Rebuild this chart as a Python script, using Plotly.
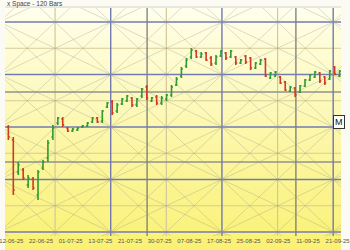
import plotly.graph_objects as go

# ---------------- data ----------------
bar_index = list(range(68))
open_ = [1105,1092,1060,1062,1047,1053,1037,1064,1074,1095,1109,1113,1104,1101,1102,1105,1106,1110,1114,1111,
         1125,1130,1121,1128,1131,1134,1127,1136,1145,1131,1135,1129,1133,1137,1147,1156,1166,1175,1181,1175,
         1179,1174,1169,1176,1179,1175,1175,1169,1176,1174,1164,1168,1173,1154,1156,1155,1150,1141,1144,1140,
         1146,1152,1155,1159,1155,1153,1165,1156]
high_ = [1107,1095,1070,1064,1057,1055,1062,1072,1092,1107,1115,1115,1105,1104,1105,1107,1110,1115,1115,1122,
         1130,1132,1129,1134,1137,1135,1134,1144,1147,1135,1137,1136,1138,1147,1155,1165,1174,1184,1182,1180,
         1180,1176,1177,1182,1180,1182,1176,1173,1177,1175,1170,1173,1174,1160,1161,1156,1151,1146,1145,1147,
         1153,1158,1161,1160,1156,1162,1166,1162]
low_ = [1092,1037,1057,1052,1044,1042,1032,1062,1070,1092,1107,1105,1100,1100,1101,1104,1105,1109,1109,1109,
        1124,1117,1119,1127,1130,1125,1125,1134,1132,1130,1127,1127,1131,1135,1146,1154,1164,1173,1174,1174,
        1171,1166,1167,1175,1172,1174,1167,1168,1168,1162,1163,1167,1155,1153,1155,1148,1141,1140,1135,1139,
        1145,1151,1154,1149,1147,1152,1157,1155]
close_ = [1095,1042,1067,1054,1054,1044,1060,1070,1089,1104,1114,1107,1101,1103,1104,1106,1109,1114,1110,1121,
          1129,1119,1127,1133,1136,1127,1133,1143,1134,1134,1129,1134,1137,1145,1153,1163,1172,1182,1175,1178,
          1172,1168,1175,1181,1174,1181,1169,1172,1170,1164,1169,1172,1156,1159,1160,1149,1142,1145,1137,1146,
          1152,1157,1160,1151,1149,1161,1158,1161]

tick_pos = [0.6, 6.6, 12.6, 18.6, 24.6, 30.6, 36.6, 42.6, 48.6, 54.6, 60.6, 66.6]
tick_labels = ["12-06-25", "22-06-25", "01-07-25", "13-07-25", "21-07-25", "30-07-25",
               "07-08-25", "17-08-25", "25-08-25", "02-09-25", "11-09-25", "21-09-25"]

# Gann grid definition (bar units / price units)
grid_x0 = 20.7        # a major vertical level
cell_w = 22.5         # bars per cell
grid_p0 = 1000.0      # base price level
cell_h = 52.5         # price per cell
major_x = [grid_x0 - cell_w, grid_x0, grid_x0 + cell_w, grid_x0 + 2 * cell_w]
minor_x = [grid_x0 - cell_w / 2, grid_x0 + cell_w / 2, grid_x0 + 1.5 * cell_w]
major_p = [grid_p0 + k * cell_h for k in range(5)]
minor_p = [grid_p0 + (k + 0.5) * cell_h for k in range(4)]
extra_p = [1070, 1140]
extra_x = [28.06, 58.16]

X_RANGE = [-0.68, 67.28]
Y_RANGE = [996, 1224]
W, H = 350, 250
MT, MB = 8, 14
plot_h = H - MT - MB

fig = go.Figure()
fig.add_trace(go.Ohlc(
    x=bar_index, open=open_, high=high_, low=low_, close=close_,
    increasing=dict(line=dict(color="#2f9a2f", width=1.6)),
    decreasing=dict(line=dict(color="#cf3b22", width=1.6)),
    tickwidth=0.3, showlegend=False, hoverinfo="skip"))

shapes = []
# background gradient (paper coords, reaching into bottom margin)
n_bands = 60
top_c = (255, 255, 238)
bot_c = (250, 241, 115)
y_bot = -MB / plot_h
for b in range(n_bands):
    t0 = b / n_bands
    t1 = (b + 1) / n_bands
    tm = ((t0 + t1) / 2) ** 0.9
    col = tuple(round(top_c[k] + (bot_c[k] - top_c[k]) * tm) for k in range(3))
    y_hi = 1 - t0 * (1 - y_bot)
    y_lo = 1 - t1 * (1 - y_bot)
    shapes.append(dict(type="rect", xref="paper", yref="paper", x0=0, x1=1, y0=y_lo, y1=y_hi + 0.002,
                       fillcolor="rgb(%d,%d,%d)" % col, line=dict(width=0), layer="below"))

# diagonal Gann lines through the lattice
diag_col = "rgba(150,150,140,0.32)"
XL, XR = -40, 110
def add_line_cells(slope, k):
    xs = [(XL - grid_x0) / cell_w, (XR - grid_x0) / cell_w]
    pts = [(grid_x0 + xc * cell_w, grid_p0 + (slope * xc + k) * cell_h) for xc in xs]
    shapes.append(dict(type="line", xref="x", yref="y", x0=pts[0][0], y0=pts[0][1],
                       x1=pts[1][0], y1=pts[1][1], line=dict(color=diag_col, width=1), layer="below"))

for s in (1, -1):
    for k in range(-6, 10):
        add_line_cells(s, k)
for s in (2, -2):
    for k in range(-8, 12):
        add_line_cells(s, k)

# minor (tan) levels
for p in minor_p:
    shapes.append(dict(type="line", xref="paper", yref="y", x0=0, x1=1, y0=p, y1=p,
                       line=dict(color="#d8cd98", width=1.2), layer="below"))
for xv in minor_x:
    shapes.append(dict(type="line", xref="x", yref="paper", x0=xv, x1=xv, y0=0, y1=1,
                       line=dict(color="#d2c79a", width=1.2), layer="below"))
# extra gray levels
for p in extra_p:
    shapes.append(dict(type="line", xref="paper", yref="y", x0=0, x1=1, y0=p, y1=p,
                       line=dict(color="#919191", width=1.5), layer="below"))
for xv in extra_x:
    shapes.append(dict(type="line", xref="x", yref="paper", x0=xv, x1=xv, y0=0, y1=1,
                       line=dict(color="#707074", width=1.2), layer="below"))
# major (blue) levels
for p in major_p:
    shapes.append(dict(type="line", xref="paper", yref="y", x0=0, x1=1, y0=p, y1=p,
                       line=dict(color="#737bb4", width=1.5), layer="below"))
for xv in major_x:
    shapes.append(dict(type="line", xref="x", yref="paper", x0=xv, x1=xv, y0=0, y1=1,
                       line=dict(color="#7278b0", width=1.4), layer="below"))
# top frame line
shapes.append(dict(type="line", xref="paper", yref="paper", x0=0, x1=1, y0=1 + 1 / plot_h, y1=1 + 1 / plot_h,
                   line=dict(color="#d2d2d2", width=1)))

annotations = [
    dict(text="x Space - 120 Bars", xref="paper", yref="paper", x=0, y=1 + 4 / plot_h,
         xanchor="left", yanchor="middle", showarrow=False,
         font=dict(family="Liberation Sans, Arial", size=6.5, color="#444444")),
    dict(text="M", xref="paper", yref="y", x=342 / W, y=1110, xanchor="left", yanchor="middle",
         showarrow=False, bgcolor="white", bordercolor="#333333", borderwidth=1, borderpad=1,
         font=dict(family="Liberation Sans, Arial", size=9, color="#111111")),
]

fig.update_layout(
    width=W, height=H,
    margin=dict(l=0, r=0, t=MT, b=MB, pad=0),
    paper_bgcolor="#fbfbf4", plot_bgcolor="rgba(0,0,0,0)",
    shapes=shapes, annotations=annotations, showlegend=False,
    xaxis=dict(range=X_RANGE, showgrid=False, zeroline=False, rangeslider=dict(visible=False),
               tickmode="array", tickvals=tick_pos, ticktext=tick_labels, ticks="",
               ticklabeloverflow="allow",
               tickfont=dict(family="Liberation Sans, Arial", size=6, color="#555544"),
               showline=False, fixedrange=True),
    yaxis=dict(range=Y_RANGE, showgrid=False, zeroline=False, showticklabels=False, ticks="",
               showline=False, fixedrange=True),
)

fig.write_html("out.html")
